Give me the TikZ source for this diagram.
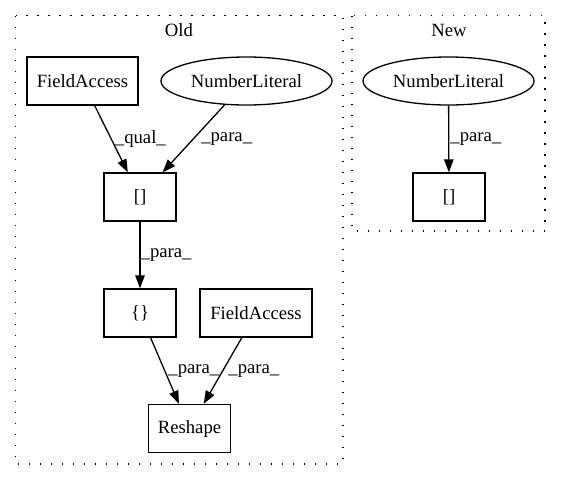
\documentclass[tikz,border=0pt]{standalone}
\usepackage{fontspec}
\setmainfont{Liberation Serif}
\usetikzlibrary{arrows.meta,shapes.geometric}
\newcommand{\gvfont}{\fontsize{18.7}{22}\selectfont}

\begin{document}
\begin{tikzpicture}[x=1pt,y=-1pt,
	box/.style={draw,line width=1.3pt,minimum height=48pt,inner sep=0pt,font=\gvfont},
	oval/.style={draw,ellipse,line width=1.3pt,minimum width=171pt,minimum height=48pt,inner sep=0pt,font=\gvfont},
	cluster/.style={line width=1.3pt,dash pattern=on 1.3pt off 9.7pt},
	edge/.style={line width=1.3pt,-{Triangle[length=13pt,width=9.5pt]}},
	lbl/.style={font=\gvfont,inner sep=0pt,anchor=west}]
			\useasboundingbox (0,0) rectangle (561,480);
			% clusters
			\draw[cluster] (15.5,15.5) rectangle (343,464);
			\node[font=\gvfont] (old) at (179,30) {Old};
			\draw[cluster] (352,15.5) rectangle (545,231);
			\node[font=\gvfont] (new) at (449,30) {New};
			% old
			\node[box,minimum width=111pt] (fa1) at (82.5,81) {FieldAccess};
			\node[oval] (nl1) at (246.5,81) {NumberLiteral};
			\node[box,minimum width=72pt] (idx1) at (140,197) {[]};
			\node[box,minimum width=72pt] (arr) at (140,313) {\{\}};
			\node[box,minimum width=112pt] (fa2) at (256,313) {FieldAccess};
			\node[box,minimum width=82pt] (resh) at (189.5,428.5) {Reshape};
			% new
			\node[oval] (nl2) at (448.5,81) {NumberLiteral};
			\node[box,minimum width=72pt] (idx2) at (449,197) {[]};
			% edges
			\draw[edge] (fa1) -- (idx1) node[lbl,midway,xshift=3pt] (q1) {\_qual\_};
			\draw[edge] (nl1) -- (idx1) node[lbl,midway,xshift=7pt] (p1) {\_para\_};
			\draw[edge] (idx1) -- (arr) node[lbl,midway,xshift=0pt] (p2) {\_para\_};
			\draw[edge] (arr) -- (resh) node[lbl,midway,xshift=3pt] (p3) {\_para\_};
			\draw[edge] (fa2) -- (resh) node[lbl,midway,xshift=5pt] (p4) {\_para\_};
			\draw[edge] (nl2) -- (idx2) node[lbl,midway,xshift=1pt] (p5) {\_para\_};
		\end{tikzpicture}
\end{document}
